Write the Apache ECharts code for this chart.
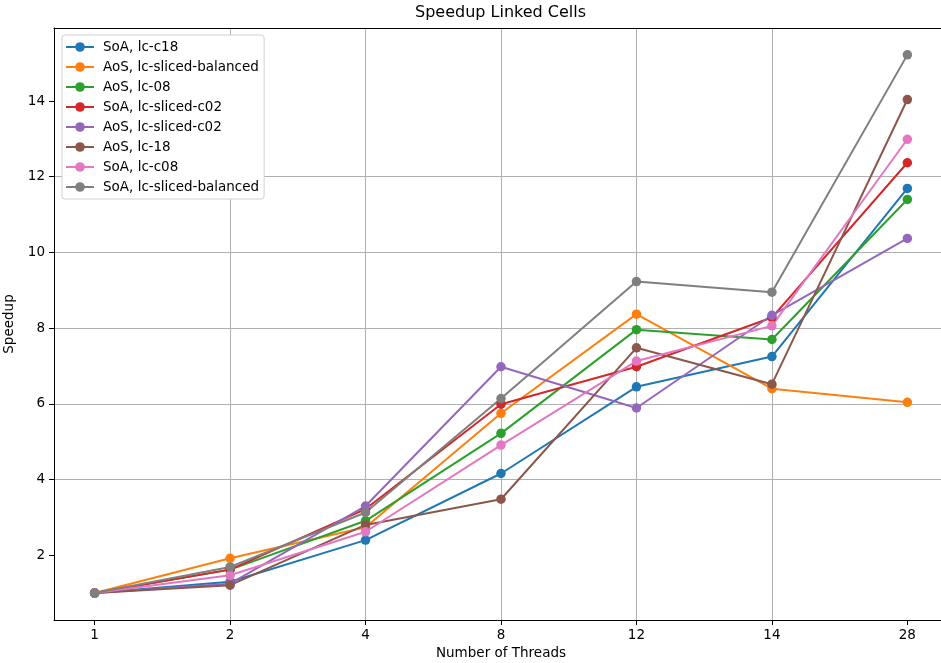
<!DOCTYPE html>
<html>
<head>
<meta charset="utf-8">
<script src="https://cdn.jsdelivr.net/npm/echarts@6/dist/echarts.min.js"></script>
<style>
  html, body { margin: 0; padding: 0; background: #fff; }
  #chart { width: 941px; height: 663px; }
</style>
</head>
<body>
<div id="chart"></div>
<script>
// Thread counts on the x axis (evenly spaced, one slot per run)
const threads = ['1', '2', '4', '8', '12', '14', '28'];

// Speedup per configuration
const soaC18            = [1.00, 1.30, 2.40, 4.16, 6.45, 7.25, 11.69];
const aosSlicedBalanced = [1.00, 1.92, 2.74, 5.75, 8.37, 6.40, 6.04];
const aos08             = [1.00, 1.62, 2.91, 5.22, 7.96, 7.70, 11.40];
const soaSlicedC02      = [1.00, 1.62, 3.22, 5.99, 6.98, 8.28, 12.37];
const aosSlicedC02      = [1.00, 1.25, 3.30, 6.98, 5.89, 8.34, 10.37];
const aos18             = [1.00, 1.21, 2.80, 3.48, 7.48, 6.52, 14.04];
const soaC08            = [1.00, 1.47, 2.62, 4.91, 7.13, 8.06, 12.99];
const soaSlicedBalanced = [1.00, 1.69, 3.13, 6.14, 9.23, 8.95, 15.22];

const seriesNames = [
  'SoA, lc-c18', 'AoS, lc-sliced-balanced', 'AoS, lc-08', 'SoA, lc-sliced-c02',
  'AoS, lc-sliced-c02', 'AoS, lc-18', 'SoA, lc-c08', 'SoA, lc-sliced-balanced'
];
const seriesValues = [
  soaC18, aosSlicedBalanced, aos08, soaSlicedC02,
  aosSlicedC02, aos18, soaC08, soaSlicedBalanced
];
const palette = ['#1f77b4', '#ff7f0e', '#2ca02c', '#d62728',
                 '#9467bd', '#8c564b', '#e377c2', '#7f7f7f'];

const yTicks = [2, 4, 6, 8, 10, 12, 14];
const xTicks = threads.map((_, i) => i);

const FONT = 'DejaVu Sans';
const X_MIN = -0.3, X_MAX = 6.3;

const chart = echarts.init(document.getElementById('chart'), null, { renderer: 'canvas' });

chart.setOption({
  animation: false,
  backgroundColor: '#fff',
  textStyle: { fontFamily: FONT },
  title: {
    text: 'Speedup Linked Cells',
    left: 415,
    top: 5,
    padding: 0,
    textStyle: { fontFamily: FONT, fontSize: 16, fontWeight: 'normal', color: '#000' }
  },
  grid: {
    left: 54, right: -7, top: 28, bottom: 43,
    outerBoundsMode: 'none',
    containLabel: false
  },
  legend: {
    orient: 'vertical',
    left: 62, top: 35,
    itemWidth: 28, itemHeight: 12, itemGap: 6,
    padding: [5, 5, 5, 3],
    backgroundColor: '#fff',
    borderColor: '#d0d0d0', borderWidth: 1, borderRadius: 3,
    textStyle: { fontFamily: FONT, fontSize: 13.5, color: '#000', lineHeight: 14, padding: [0, 0, 0, 4] },
    data: seriesNames
  },
  xAxis: [{
    type: 'value',
    min: X_MIN, max: X_MAX,
    splitNumber: 7,
    name: 'Number of Threads',
    nameLocation: 'middle',
    nameGap: 26,
    nameTextStyle: { fontFamily: FONT, fontSize: 13.5, color: '#000' },
    axisLine: { show: true, onZero: false, lineStyle: { color: '#000', width: 1 } },
    axisTick: { show: true, length: 5, lineStyle: { color: '#000' }, customValues: xTicks },
    axisLabel: {
      margin: 8, fontFamily: FONT, fontSize: 13.5, color: '#000',
      customValues: xTicks,
      formatter: v => (Number.isInteger(v) && threads[v] !== undefined) ? threads[v] : ''
    },
    splitLine: {
      show: true, showMinLine: false, showMaxLine: false,
      lineStyle: { color: '#b0b0b0', width: 1 }
    }
  }, {
    // top frame line
    type: 'value',
    position: 'top',
    min: X_MIN, max: X_MAX,
    axisLine: { show: true, onZero: false, lineStyle: { color: '#000', width: 1 } },
    axisTick: { show: false },
    axisLabel: { show: false },
    splitLine: { show: false }
  }],
  yAxis: {
    type: 'value',
    min: 0.289, max: 15.93,
    splitNumber: 8,
    name: 'Speedup',
    nameLocation: 'middle',
    nameGap: 32,
    nameTextStyle: { fontFamily: FONT, fontSize: 13.5, color: '#000' },
    axisLine: { show: true, onZero: false, lineStyle: { color: '#000', width: 1 } },
    axisTick: { show: true, length: 5, lineStyle: { color: '#000' }, customValues: yTicks },
    axisLabel: {
      margin: 9, fontFamily: FONT, fontSize: 13.5, color: '#000',
      customValues: yTicks,
      formatter: v => Number.isInteger(v) ? String(v) : ''
    },
    splitLine: {
      show: true, showMinLine: false, showMaxLine: false,
      lineStyle: { color: '#b0b0b0', width: 1 }
    }
  },
  series: seriesNames.map((name, k) => ({
    name,
    type: 'line',
    xAxisIndex: 0,
    data: seriesValues[k].map((v, i) => [i, v]),
    color: palette[k],
    symbol: 'circle',
    symbolSize: 9.5,
    showAllSymbol: true,
    lineStyle: { width: 2, color: palette[k] },
    itemStyle: { color: palette[k] },
    emphasis: { disabled: true },
    clip: false
  }))
});
</script>
</body>
</html>
